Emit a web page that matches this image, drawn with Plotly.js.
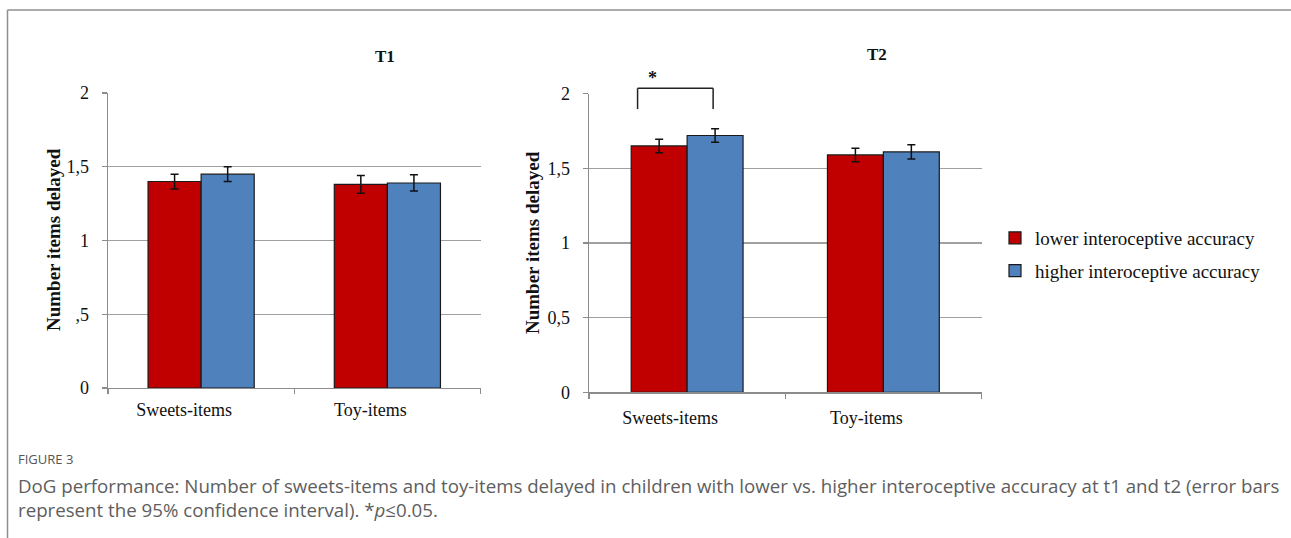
<!DOCTYPE html>
<html>
<head>
<meta charset="utf-8">
<script src="https://cdn.plot.ly/plotly-3.0.1.min.js"></script>
<style>
  html, body { margin: 0; padding: 0; background: #ffffff; }
  #chart { width: 1291px; height: 538px; }
</style>
</head>
<body>
<div id="chart"></div>
<script>
// Categories, series and tick labels
const categories = ['Sweets-items', 'Toy-items'];
const seriesNames = ['lower interoceptive accuracy', 'higher interoceptive accuracy'];

// Means and 95% CI half-widths, T1
const t1Lower = [1.40, 1.38];
const t1LowerCI = [0.05, 0.06];
const t1Higher = [1.45, 1.39];
const t1HigherCI = [0.05, 0.055];

// Means and 95% CI half-widths, T2
const t2Lower = [1.65, 1.59];
const t2LowerCI = [0.045, 0.045];
const t2Higher = [1.72, 1.61];
const t2HigherCI = [0.045, 0.048];

const yTickVals = [0, 0.5, 1, 1.5, 2];
const t1TickText = ['0', ',5', '1', '1,5', '2'];
const t2TickText = ['0', '0,5', '1', '1,5', '2'];
const panelTitles = ['T1', 'T2'];
const yTitle = 'Number items delayed';
const sigMark = '*';
const figLabel = 'FIGURE 3';
const captionLines = [
  'DoG performance: Number of sweets-items and toy-items delayed in children with lower vs. higher interoceptive accuracy at t1 and t2 (error bars',
  'represent the 95% confidence interval). *<i>p</i>\u22640.05.'
];

// ---- styling ----
const W = 1291, H = 538;
const px = x => x / W;          // pixel x -> paper
const py = y => 1 - y / H;      // pixel y -> paper
const SERIF = '"Liberation Serif", "Times New Roman", serif';
const SANS = '"Open Sans", "Noto Sans", sans-serif';
const RED = '#c00000', BLUE = '#4f81bd';
const GRID = '#a0a0a0', AXIS = '#8c8c8c';
const BARGAP = 0.43;
const Y_RANGE = [0, 2];
const X_RANGE = [-0.5, 1.5];

function barTrace(y, ci, name, color, xa, ya, show) {
  return {
    type: 'bar', x: categories, y: y, name: name,
    xaxis: xa, yaxis: ya, showlegend: show, legendgroup: name,
    marker: { color: color, line: { color: '#1a1a1a', width: 1.2 } },
    error_y: { type: 'data', array: ci, visible: true, color: '#111111', thickness: 1.5, width: 4 },
    hoverinfo: 'skip'
  };
}

const data = [
  barTrace(t1Lower, t1LowerCI, seriesNames[0], RED, 'x', 'y', true),
  barTrace(t1Higher, t1HigherCI, seriesNames[1], BLUE, 'x', 'y', true),
  barTrace(t2Lower, t2LowerCI, seriesNames[0], RED, 'x2', 'y2', false),
  barTrace(t2Higher, t2HigherCI, seriesNames[1], BLUE, 'x2', 'y2', false)
];

function xAxis(domain, anchor, standoff) {
  return {
    domain: domain, anchor: anchor, range: X_RANGE, type: 'category', fixedrange: true,
    showgrid: false, zeroline: false,
    showline: true, linecolor: AXIS, linewidth: 1.3,
    ticks: 'outside', tickson: 'boundaries', ticklen: 5, tickcolor: AXIS, tickwidth: 1.3,
    ticklabelstandoff: standoff, ticklabelshift: -17,
    tickfont: { family: SERIF, size: 18, color: '#111111' }
  };
}
function yAxis(domain, anchor, ticktext) {
  return {
    domain: domain, anchor: anchor, range: Y_RANGE, fixedrange: true,
    tickmode: 'array', tickvals: yTickVals, ticktext: ticktext,
    showgrid: true, gridcolor: GRID, gridwidth: 1.3, zeroline: false,
    showline: true, linecolor: AXIS, linewidth: 1.3,
    ticks: 'outside', ticklen: 5, tickcolor: AXIS, tickwidth: 1.3,
    ticklabelstandoff: 9,
    tickfont: { family: SERIF, size: 18, color: '#111111' }
  };
}

// Significance bracket over the T2 sweets pair, in axis-domain units
const barW = (1 - BARGAP) / 2;
const xDom = c => (c - X_RANGE[0]) / (X_RANGE[1] - X_RANGE[0]);
const yDom = v => (v - Y_RANGE[0]) / (Y_RANGE[1] - Y_RANGE[0]);
const sigCat = 0;
const brLeft = xDom(sigCat - barW / 2 - 0.11);
const brRight = xDom(sigCat + barW / 2 - 0.01);
const brTop = yDom(2.036), brLeg = yDom(1.897);
const brLine = { color: '#222222', width: 1.5 };
const bracket = [
  { type: 'line', xref: 'x2 domain', yref: 'y2 domain', x0: brLeft, x1: brLeft, y0: brLeg, y1: brTop, line: brLine },
  { type: 'line', xref: 'x2 domain', yref: 'y2 domain', x0: brLeft, x1: brRight, y0: brTop, y1: brTop, line: brLine },
  { type: 'line', xref: 'x2 domain', yref: 'y2 domain', x0: brRight, x1: brRight, y0: brTop, y1: brLeg, line: brLine }
];

// Page frame (left and top rules)
const frame = [
  { type: 'line', xref: 'paper', yref: 'paper', x0: px(7.5), x1: px(7.5), y0: py(10), y1: 0, line: { color: '#8f8f8f', width: 1.5 } },
  { type: 'line', xref: 'paper', yref: 'paper', x0: px(7.5), x1: 1, y0: py(10), y1: py(10), line: { color: '#8f8f8f', width: 1.5 } }
];

function note(text, x, y, font, extra) {
  return Object.assign({ text: text, xref: 'paper', yref: 'paper', x: x, y: y,
    xanchor: 'center', yanchor: 'middle', showarrow: false, font: font }, extra || {});
}

const titleFont = { family: SERIF, size: 17, color: '#111111' };
const yTitleFont = { family: SERIF, size: 19, color: '#111111' };
const captionFont = { family: SANS, size: 18.7, color: '#5e5e5e' };
const annotations = [
  note('<b>' + panelTitles[0] + '</b>', px(385), py(56), titleFont),
  note('<b>' + panelTitles[1] + '</b>', px(877), py(55), titleFont),
  note('<b>' + yTitle + '</b>', px(53), py(240), yTitleFont, { textangle: -90 }),
  note('<b>' + yTitle + '</b>', px(533), py(243), yTitleFont, { textangle: -90 }),
  { text: '<b>' + sigMark + '</b>', xref: 'x2 domain', yref: 'y2 domain',
    x: xDom(sigCat - barW / 2 - 0.035), y: yDom(2.105), xanchor: 'center', yanchor: 'middle',
    showarrow: false, font: { family: SERIF, size: 18, color: '#111111' } },
  note(figLabel, px(16), py(459), { family: SANS, size: 13, color: '#555555' }, { xanchor: 'left' }),
  note(captionLines[0], px(16), py(485), captionFont, { xanchor: 'left' }),
  note(captionLines[1], px(16), py(509), captionFont, { xanchor: 'left' })
];

const layout = {
  width: W, height: H,
  margin: { l: 0, r: 0, t: 0, b: 0, pad: 0 },
  paper_bgcolor: '#ffffff', plot_bgcolor: '#ffffff',
  barmode: 'group', bargap: BARGAP, bargroupgap: 0,
  xaxis: xAxis([px(108), px(480.5)], 'y', 5),
  yaxis: yAxis([py(388), py(93)], 'x', t1TickText),
  xaxis2: xAxis([px(589), px(981.5)], 'y2', 9),
  yaxis2: yAxis([py(392.3), py(93.7)], 'x2', t2TickText),
  showlegend: true,
  legend: {
    x: px(995), y: py(219), xanchor: 'left', yanchor: 'top',
    traceorder: 'grouped', tracegroupgap: 5,
    bgcolor: 'rgba(0,0,0,0)', borderwidth: 0,
    font: { family: SERIF, size: 19, color: '#111111' }
  },
  shapes: frame.concat(bracket),
  annotations: annotations
};

Plotly.newPlot('chart', data, layout, { staticPlot: true, displayModeBar: false });
</script>
</body>
</html>
